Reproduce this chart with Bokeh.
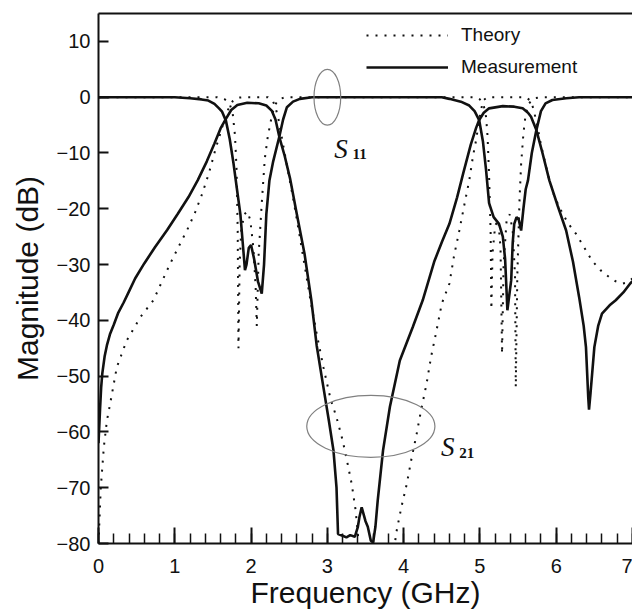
from bokeh.plotting import figure
from bokeh.models import (Range1d, FixedTicker, LinearAxis, Legend, LegendItem, Label)
from bokeh.embed import file_html
from bokeh.resources import INLINE

# ---------------- data ----------------
meas_s21_f = [0.00, 0.01, 0.02, 0.035, 0.05, 0.08, 0.11, 0.15, 0.20, 0.26, 0.33, 0.40, 0.48, 0.60,
              0.74, 0.90, 1.04, 1.18, 1.30, 1.42, 1.52, 1.60, 1.67, 1.74, 1.82, 1.95, 2.10, 2.20,
              2.27, 2.32, 2.37, 2.44, 2.51, 2.60, 2.70, 2.79, 2.86, 2.94, 3.02, 3.08, 3.12, 3.14,
              3.20, 3.25, 3.30, 3.36, 3.40, 3.42, 3.45, 3.47, 3.50, 3.53, 3.57, 3.60, 3.63, 3.66,
              3.73, 3.82, 3.95, 4.12, 4.25, 4.40, 4.50, 4.60, 4.70, 4.78, 4.88, 4.95, 4.99, 5.05,
              5.12, 5.30, 5.45, 5.56, 5.63, 5.67, 5.74, 5.82, 5.91, 6.02, 6.13, 6.22, 6.30, 6.36,
              6.39, 6.42, 6.43, 6.45, 6.50, 6.55, 6.60, 6.70, 6.78, 6.88, 6.97, 7.00]
meas_s21_db = [-62, -59, -56, -52, -49.5, -46.5, -44.5, -42.5, -40.8, -38.6, -36.8, -34.8, -32.5, -29.8,
               -26.9, -23.8, -20.9, -17.9, -14.9, -11.5, -8.3, -5.6, -3.9, -2.3, -1.4, -1.0, -1.1, -1.5,
               -2.4, -4.0, -7.1, -10.5, -14.5, -21, -28, -36.4, -44.5, -51.3, -58, -63.3, -70, -78.3,
               -78.6, -78.9, -78.5, -78.8, -77, -75.3, -73.5, -74.5, -76, -77, -79.5, -79.8, -77, -72.3,
               -63.3, -55.5, -47.2, -41.2, -36.4, -29.5, -26, -22.7, -18, -13.7, -8.5, -5.5, -4.1, -2.8,
               -2.0, -1.6, -1.7, -2.0, -2.8, -3.5, -5.9, -10, -14.9, -19.5, -23.9, -29.5, -35.8, -41,
               -44.8, -53.8, -56, -53, -44.8, -41, -38.8, -37.3, -36.4, -35, -33.4, -33]

meas_s11_f = [0.00, 1.00, 1.20, 1.35, 1.44, 1.52, 1.58, 1.62, 1.67, 1.72, 1.77, 1.82, 1.86, 1.89,
              1.92, 1.94, 1.97, 2.00, 2.04, 2.09, 2.14, 2.17, 2.20, 2.24, 2.29, 2.37, 2.42, 2.47,
              2.55, 2.64, 2.80, 4.50, 4.60, 4.75, 4.86, 4.93, 4.99, 5.04, 5.08, 5.12, 5.18, 5.25,
              5.30, 5.33, 5.35, 5.36, 5.38, 5.41, 5.43, 5.45, 5.48, 5.51, 5.54, 5.57, 5.60, 5.63,
              5.68, 5.74, 5.80, 5.86, 5.95, 6.13, 6.30, 7.00]
meas_s11_db = [0, 0, -0.2, -0.4, -0.6, -1.2, -2.0, -2.6, -4.2, -7.5, -11.9, -17, -21, -26,
               -31, -30, -27, -26.5, -29, -33, -35.2, -30, -21, -15, -11.5, -7.1, -4, -1.8,
               -0.8, -0.3, 0, 0, -0.3, -0.8, -1.5, -2.5, -4.1, -8, -13, -19, -21.5, -22.7,
               -25, -29, -35, -38.2, -36, -32.8, -26, -22.7, -21.5, -22, -23.9, -20, -16.5, -14.9,
               -10, -5.9, -2.5, -1.1, -0.5, -0.2, 0, 0]

theo_s21_f = [0.00, 0.015, 0.03, 0.07, 0.11, 0.16, 0.24, 0.37, 0.55, 0.72, 0.92, 1.05, 1.18, 1.27,
              1.36, 1.45, 1.53, 1.59, 1.64, 1.70, 1.76, 1.82, 1.90, 2.22, 2.28, 2.32, 2.36, 2.42,
              2.48, 2.55, 2.62, 2.70, 2.78, 2.86, 2.95, 3.04, 3.12, 3.20, 3.27, 3.32, 3.37, 3.40,
              3.43, 3.50, 3.80, 3.87, 3.90, 3.97, 4.04, 4.10, 4.17, 4.23, 4.30, 4.36, 4.43, 4.50,
              4.60, 4.66, 4.73, 4.80, 4.86, 4.91, 4.95, 4.99, 5.04, 5.10, 5.60, 5.66, 5.70, 5.75,
              5.80, 5.86, 5.91, 5.97, 6.04, 6.15, 6.26, 6.37, 6.47, 6.58, 6.69, 6.78, 6.87, 6.93, 7.00]
theo_s21_db = [-80, -75, -70, -62.7, -58, -54.4, -48.4, -43.6, -39.4, -36.4, -30.4, -26.8, -23.3, -20.5,
               -17.3, -13.5, -9.5, -6.8, -4.5, -2.2, -0.7, -0.1, 0, 0, -0.5, -1.8, -4, -8.5,
               -13, -18, -23.5, -30, -36.5, -42.4, -48.5, -54, -57.4, -61.5, -66, -69.4, -74, -78.3,
               -82, -88, -88, -82, -78.3, -73.5, -69.4, -65, -60.4, -56, -51.4, -46.5, -41.9, -37,
               -33.4, -28.5, -23.9, -19, -14.9, -10.5, -7.7, -4, -0.6, 0, 0, -0.6, -2, -5,
               -8.5, -12, -14.9, -17.5, -19.7, -22.5, -24.5, -27, -29.3, -31, -32.2, -33, -33.4, -33.2, -32.5]

theo_s11_f = [0.00, 1.55, 1.65, 1.72, 1.76, 1.79, 1.81, 1.825, 1.835, 1.85, 1.87, 1.91, 1.95, 1.99,
              2.03, 2.06, 2.075, 2.10, 2.14, 2.18, 2.22, 2.27, 2.31, 2.36, 2.45, 4.95, 5.00, 5.05,
              5.08, 5.10, 5.12, 5.14, 5.15, 5.165, 5.20, 5.24, 5.27, 5.29, 5.31, 5.35, 5.39, 5.43,
              5.46, 5.47, 5.49, 5.52, 5.54, 5.57, 5.60, 5.64, 5.70, 5.80, 7.00]
theo_s11_db = [0, 0, -0.3, -1.2, -3, -7, -13, -24, -45, -30, -24, -21, -20.5, -22,
               -27, -34, -41, -28, -19, -11, -7, -3.5, -1.5, -0.4, 0, 0, -0.4, -1.5,
               -3.5, -7, -14, -24, -38, -28, -23, -22, -27, -46, -30, -22, -21, -24,
               -32, -52, -32, -18, -12, -6.5, -3, -1.2, -0.2, 0, 0]

x_ticks = [0, 1, 2, 3, 4, 5, 6, 7]
x_minor = [round(0.2 * i, 1) for i in range(0, 36)]
y_ticks = [-80, -70, -60, -50, -40, -30, -20, -10, 0, 10]

# ---------------- figure ----------------
FONT = "Liberation Sans"
p = figure(width=632, height=613, output_backend="svg", toolbar_location=None,
           x_range=Range1d(0, 7), y_range=Range1d(-80, 15),
           min_border_left=98, min_border_right=0, min_border_top=13, min_border_bottom=70)
p.outline_line_color = None
p.grid.visible = False
p.background_fill_color = "white"
p.border_fill_color = "white"

# axes
xa = p.xaxis[0]
xa.ticker = FixedTicker(ticks=x_ticks, minor_ticks=x_minor)
xa.axis_label = "Frequency (GHz)"
ya = p.yaxis[0]
ya.ticker = FixedTicker(ticks=y_ticks, minor_ticks=[])
ya.axis_label = "Magnitude (dB)"
for ax in (xa, ya):
    ax.axis_line_width = 2
    ax.axis_line_color = "#111111"
    ax.major_tick_line_width = 2
    ax.major_tick_line_color = "#111111"
    ax.minor_tick_line_width = 1.5
    ax.minor_tick_line_color = "#111111"
    ax.major_tick_out = 0
    ax.minor_tick_out = 0
    ax.major_label_text_font = FONT
    ax.major_label_text_font_size = "20px"
    ax.major_label_text_color = "#111111"
    ax.axis_label_text_font = FONT
    ax.axis_label_text_font_size = "30px"
    ax.axis_label_text_font_style = "normal"
    ax.axis_label_text_color = "#111111"
xa.major_tick_in = 16
xa.minor_tick_in = 10
xa.major_label_standoff = 15
xa.axis_label_standoff = 0
ya.major_tick_in = 10
ya.minor_tick_in = 0
ya.major_label_standoff = 8
ya.axis_label_standoff = 10

# top border line
top = LinearAxis(ticker=FixedTicker(ticks=[]), axis_line_width=2, axis_line_color="#111111",
                 major_tick_line_color=None, minor_tick_line_color=None,
                 major_label_text_font_size="0px")
p.add_layout(top, "above")

# curves
dash = "2 7"
r_ts21 = p.line(theo_s21_f, theo_s21_db, line_color="#111111", line_width=2, line_dash=dash)
r_ts11 = p.line(theo_s11_f, theo_s11_db, line_color="#111111", line_width=2, line_dash=dash)
r_ms21 = p.line(meas_s21_f, meas_s21_db, line_color="#111111", line_width=2.6)
r_ms11 = p.line(meas_s11_f, meas_s11_db, line_color="#111111", line_width=2.6)

# ellipses marking the curve groups
p.ellipse(x=[3.0], y=[0], width=[0.35], height=[10], fill_color=None,
          line_color="#808080", line_width=1.2)
p.ellipse(x=[3.57], y=[-59], width=[1.68], height=[11.1], fill_color=None,
          line_color="#808080", line_width=1.2)

# S-parameter labels
for (sx, sy, subx, suby, sub) in [(3.09, -9.25, 3.33, -10.1, "11"), (4.49, -62.7, 4.73, -63.7, "21")]:
    p.add_layout(Label(x=sx, y=sy, text="S", text_font="Liberation Serif",
                       text_font_style="italic", text_font_size="27px", text_color="#111111",
                       text_baseline="alphabetic"))
    p.add_layout(Label(x=subx, y=suby, text=sub, text_font="Liberation Serif",
                       text_font_style="bold", text_font_size="15px", text_color="#111111",
                       text_baseline="alphabetic"))

legend = Legend(items=[LegendItem(label="Theory", renderers=[r_ts21]),
                       LegendItem(label="Measurement", renderers=[r_ms21])],
                location=(268, 465), padding=0, margin=0, spacing=10,
                glyph_width=82, glyph_height=20, label_height=20, label_standoff=13,
                label_text_font=FONT, label_text_font_size="19px", label_text_color="#111111",
                border_line_color=None, background_fill_alpha=0)
p.add_layout(legend)

open("out.html", "w").write(file_html(p, INLINE))
